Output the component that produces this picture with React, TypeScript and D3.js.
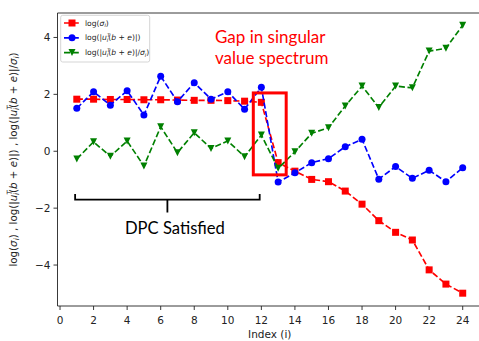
import React from "react";
import * as d3 from "d3";

const indices = [1, 2, 3, 4, 5, 6, 7, 8, 9, 10, 11, 12, 13, 14, 15, 16, 17, 18, 19, 20, 21, 22, 23, 24];
const logSigma = [1.83, 1.83, 1.82, 1.82, 1.81, 1.81, 1.8, 1.79, 1.79, 1.78, 1.76, 1.72, -0.4, -0.7, -0.99, -1.07, -1.4, -1.86, -2.44, -2.85, -3.12, -4.17, -4.67, -4.99];
const logProj = [1.51, 2.09, 1.62, 2.13, 1.27, 2.64, 1.74, 2.41, 1.83, 2.09, 1.48, 2.25, -1.08, -0.76, -0.4, -0.26, 0.16, 0.42, -0.98, -0.54, -0.95, -0.67, -1.07, -0.58];
const logRatio = [-0.27, 0.33, -0.18, 0.36, -0.52, 0.86, -0.05, 0.65, 0.1, 0.36, -0.19, 0.57, -0.6, -0.02, 0.63, 0.83, 1.59, 2.29, 1.54, 2.29, 2.23, 3.52, 3.62, 4.43];

const xTicks = [0, 2, 4, 6, 8, 10, 12, 14, 16, 18, 20, 22, 24];
const yTicks = [-4, -2, 0, 2, 4];
const xDomain = [-0.15, 25.15];
const yDomain = [-5.44, 4.86];

// rectangle around the drop between index 12 and 13 (data coordinates)
const gapBox = { x0: 11.52, x1: 13.48, y0: -0.83, y1: 2.05 };
// brace spanning indices 1..12
const braceSpan = { x0: 0.9, x1: 11.9, y: -1.7 };

type Seg = { t: string; it?: boolean; sub?: boolean; sup?: boolean; dx?: number };

const M_SIGMA: Seg[] = [{ t: "log(" }, { t: "σ", it: true }, { t: "i", it: true, sub: true }, { t: ")" }];
const M_PROJ: Seg[] = [
  { t: "log(|" }, { t: "u", it: true }, { t: "T", it: true, sup: true }, { t: "i", it: true, sub: true, dx: -0.45 },
  { t: "(" }, { t: "b", it: true }, { t: " + " }, { t: "e", it: true }, { t: ")|)" },
];
const M_RATIO: Seg[] = [
  { t: "log(|" }, { t: "u", it: true }, { t: "T", it: true, sup: true }, { t: "i", it: true, sub: true, dx: -0.45 },
  { t: "(" }, { t: "b", it: true }, { t: " + " }, { t: "e", it: true }, { t: ")|/" },
  { t: "σ", it: true }, { t: "i", it: true, sub: true }, { t: ")" },
];
const Y_LABEL: Seg[] = [...M_SIGMA, { t: " , " }, ...M_PROJ, { t: " , " }, ...M_RATIO];

function MathSpans({ segs, fs }: { segs: Seg[]; fs: number }) {
  let cur = 0;
  return (
    <>
      {segs.map((s, k) => {
        const target = s.sub ? 0.24 * fs : s.sup ? -0.46 * fs : 0;
        const dy = target - cur;
        cur = target;
        return (
          <tspan
            key={k}
            dy={dy || undefined}
            dx={s.dx ? s.dx * fs : undefined}
            fontStyle={s.it ? "italic" : "normal"}
            fontSize={s.sub || s.sup ? fs * 0.7 : fs}
          >
            {s.t}
          </tspan>
        );
      })}
    </>
  );
}

const W = 479;
const H = 341;
const plot = { left: 57.5, right: 482, top: 13, bottom: 306 };

const series = [
  { name: M_SIGMA, values: logSigma, color: "#ff0000", marker: "square" },
  { name: M_PROJ, values: logProj, color: "#0000ff", marker: "circle" },
  { name: M_RATIO, values: logRatio, color: "#008000", marker: "tri" },
];

function Marker({ kind, x, y, color }: { kind: string; x: number; y: number; color: string }) {
  const s = 3.5;
  if (kind === "square") return <rect x={x - s} y={y - s} width={2 * s} height={2 * s} fill={color} />;
  if (kind === "circle") return <circle cx={x} cy={y} r={s} fill={color} />;
  return <path d={`M${x},${y + s}L${x - s},${y - s}L${x + s},${y - s}Z`} fill={color} />;
}

export default function App() {
  const x = d3.scaleLinear().domain(xDomain).range([plot.left, plot.right]);
  const y = d3.scaleLinear().domain(yDomain).range([plot.bottom, plot.top]);
  const font = "'DejaVu Sans', sans-serif";
  const calloutFont = "Lato, 'Open Sans', sans-serif";

  const bx0 = x(braceSpan.x0);
  const bx1 = x(braceSpan.x1);
  const by = y(braceSpan.y);
  const bmid = (bx0 + bx1) / 2;

  return (
    <svg
      width={W}
      height={H}
      style={{ position: "absolute", left: 0, top: 0, background: "#fff" }}
      fontFamily={font}
    >
      <rect x={0} y={0} width={W} height={H} fill="#fff" />
      {/* data series */}
      {series.map((s, si) => {
        const line = d3
          .line<number>()
          .x((_, i) => x(indices[i]))
          .y((v) => y(v));
        return (
          <g key={si}>
            <path d={line(s.values) || ""} fill="none" stroke={s.color} strokeWidth={1.65} strokeDasharray="6.1,2.6" />
            {s.values.map((v, i) => (
              <Marker key={i} kind={s.marker} x={x(indices[i])} y={y(v)} color={s.color} />
            ))}
          </g>
        );
      })}

      {/* spines */}
      <g stroke="#222" strokeWidth={0.9} fill="none">
        <line x1={plot.left} x2={plot.left} y1={plot.top} y2={plot.bottom} />
        <line x1={plot.left} x2={plot.right} y1={plot.bottom} y2={plot.bottom} />
        <line x1={plot.left} x2={plot.right} y1={plot.top} y2={plot.top} />
        <line x1={plot.right} x2={plot.right} y1={plot.top} y2={plot.bottom} />
      </g>

      {/* x axis */}
      {xTicks.map((t) => (
        <g key={t} transform={`translate(${x(t)},${plot.bottom})`}>
          <line y2={4} stroke="#222" strokeWidth={0.9} />
          <text y={17.5} textAnchor="middle" fontSize={10.5} fill="#222">
            {t}
          </text>
        </g>
      ))}
      <text x={(plot.left + plot.right) / 2} y={337.5} textAnchor="middle" fontSize={10.5} fill="#222">
        Index (i)
      </text>

      {/* y axis */}
      {yTicks.map((t) => (
        <g key={t} transform={`translate(${plot.left},${y(t)})`}>
          <line x2={-4} stroke="#222" strokeWidth={0.9} />
          <text x={-7} dy="0.35em" textAnchor="end" fontSize={10.5} fill="#222">
            {t < 0 ? `\u2212${Math.abs(t)}` : t}
          </text>
        </g>
      ))}
      <text
        transform={`translate(17,${(plot.top + plot.bottom) / 2}) rotate(-90)`}
        textAnchor="middle"
        fontSize={10.3}
        fill="#222"
      >
        <MathSpans segs={Y_LABEL} fs={10.3} />
      </text>

      {/* legend */}
      <g>
        <rect x={60.7} y={15.3} width={89} height={46.7} rx={2} fill="#fff" fillOpacity={0.85} stroke="#d0d0d0" strokeWidth={0.9} />
        {series.map((s, i) => {
          const ly = 23 + i * 14.8;
          return (
            <g key={i}>
              <line x1={64} x2={80} y1={ly} y2={ly} stroke={s.color} strokeWidth={1.65} strokeDasharray="6.1,2.6" />
              <Marker kind={s.marker} x={72} y={ly} color={s.color} />
              <text x={85} y={ly} dy="0.33em" fontSize={7.6} fill="#222">
                <MathSpans segs={s.name} fs={7.6} />
              </text>
            </g>
          );
        })}
      </g>

      {/* callouts */}
      <rect
        x={x(gapBox.x0)}
        y={y(gapBox.y1)}
        width={x(gapBox.x1) - x(gapBox.x0)}
        height={y(gapBox.y0) - y(gapBox.y1)}
        fill="none"
        stroke="#ff0000"
        strokeWidth={3}
      />
      <text fontFamily={calloutFont} fontSize={17} fill="#ff0000">
        <tspan x={215} y={43}>Gap in singular</tspan>
        <tspan x={215} y={64}>value spectrum</tspan>
      </text>
      <path
        d={`M${bx0},${by - 5.5}V${by}H${bx1}V${by - 5.5}M${bmid},${by}V${by + 13}`}
        fill="none"
        stroke="#000"
        strokeWidth={1.8}
      />
      <text x={125} y={234} fontFamily={calloutFont} fontSize={16.6} fill="#000">
        DPC Satisfied
      </text>
    </svg>
  );
}
